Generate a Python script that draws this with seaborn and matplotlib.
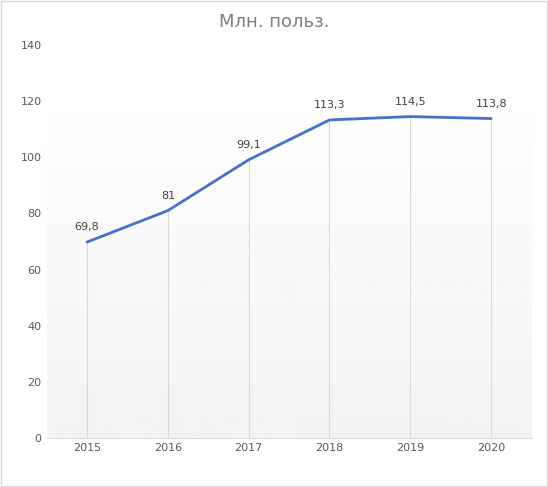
import matplotlib
matplotlib.use("Agg")
import matplotlib.pyplot as plt
import seaborn as sns
import numpy as np
import pandas as pd

years = ["2015", "2016", "2017", "2018", "2019", "2020"]
values = [69.8, 81, 99.1, 113.3, 114.5, 113.8]
labels = ["69,8", "81", "99,1", "113,3", "114,5", "113,8"]

sns.set_style("white")
plt.rcParams['font.family'] = ['DejaVu Sans']

fig = plt.figure(figsize=(5.48, 4.87), dpi=100)
ax = fig.add_axes([0.085, 0.1006, 0.885, 0.807])
df = pd.DataFrame({"x": np.arange(len(years)), "y": values})

grad = np.linspace(0.95, 1.0, 256).reshape(-1, 1)
ax.imshow(grad, cmap="gray", vmin=0, vmax=1, aspect="auto", origin="lower",
          extent=[-0.5, len(years) - 0.5, 0, 125], zorder=0)

for xi, yi in zip(df.x, df.y):
    ax.plot([xi, xi], [0, yi], color="#d9d9d9", lw=0.8, zorder=1)

sns.lineplot(data=df, x="x", y="y", ax=ax, color="#4472C4", lw=2, zorder=3)
for xi, yi, t in zip(df.x, df.y, labels):
    ax.annotate(t, (xi, yi), xytext=(0, 7), textcoords="offset points",
                ha="center", va="bottom", fontsize=8, color="#404040")

ax.set_xlim(-0.5, len(years) - 0.5)
ax.set_ylim(0, 140)
ax.set_yticks(range(0, 141, 20))
ax.set_xticks(df.x)
ax.set_xticklabels(years)
ax.tick_params(labelsize=8, colors="#595959", length=0)
ax.set_xlabel("")
ax.set_ylabel("")
for s in ["top", "right", "left"]:
    ax.spines[s].set_visible(False)
ax.spines["bottom"].set_color("#d9d9d9")
fig.text(0.5, 0.955, "Млн. польз.", ha="center", va="center", fontsize=13, color="#7f7f7f")
fig.patches.append(plt.Rectangle((0.002, 0.002), 0.996, 0.996, transform=fig.transFigure,
                                 fill=False, edgecolor="#d9d9d9", lw=1))
fig.savefig("out.png", dpi=100)
